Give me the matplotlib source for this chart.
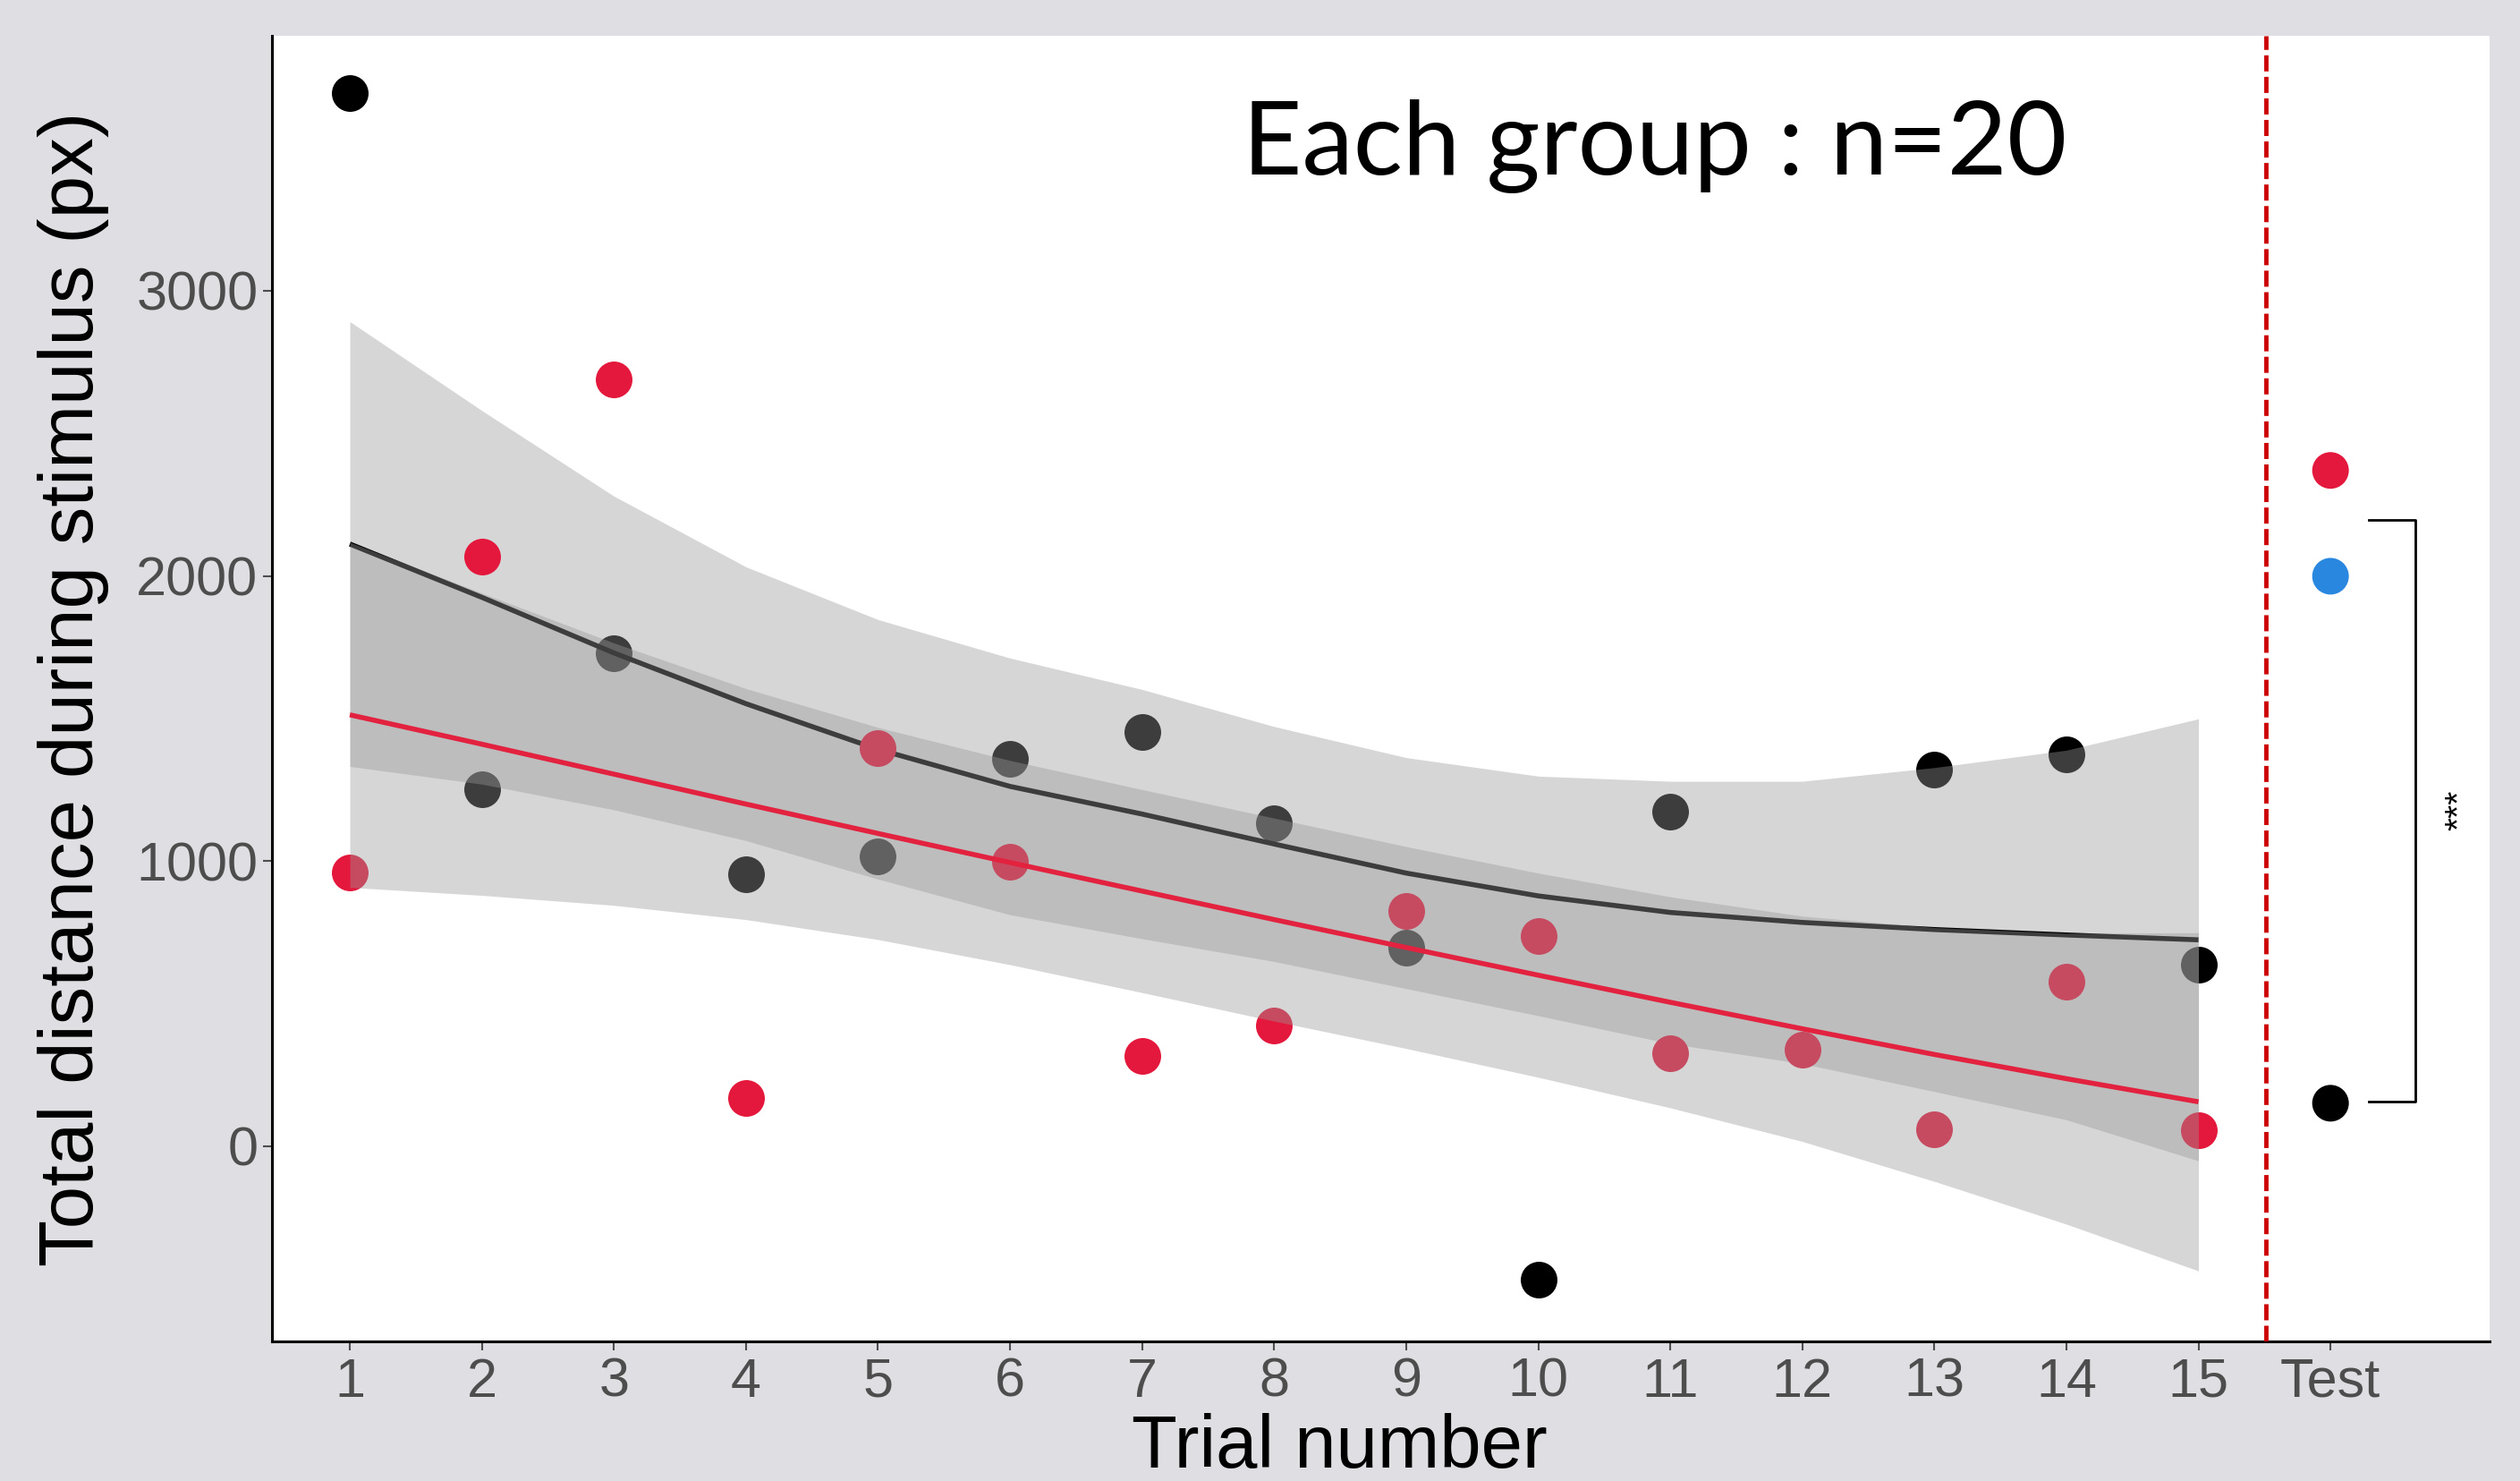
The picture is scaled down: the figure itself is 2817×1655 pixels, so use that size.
import numpy as np
import matplotlib
matplotlib.use("Agg")
import matplotlib.pyplot as plt

plt.rcParams["font.family"] = ["Liberation Sans", "DejaVu Sans"]

# ---- data ----
trials = np.arange(1, 16)
tick_labels = [str(t) for t in trials] + ["Test"]

# black group (points + smooth fit + 95% band half width)
black_pts = [3692, 1252, 1729, 954, 1017, 1360, 1452, 1133, 695, -468, 1173, np.nan, 1320, 1373, 636]
black_fit = [2112, 1925, 1730, 1552, 1392, 1262, 1165, 1060, 958, 878, 820, 785, 760, 741, 724]
black_ci = [780, 655, 550, 480, 455, 450, 437, 412, 405, 420, 460, 495, 568, 648, 775]

# red group
red_pts = [960, 2068, 2688, 168, 1396, 999, 316, 425, 826, 737, 327, 340, 60, 577, 56]
red_fit = [1513, 1410, 1305, 1200, 1097, 995, 895, 795, 697, 600, 505, 412, 322, 237, 156]
red_ci = [605, 530, 460, 405, 372, 358, 356, 356, 354, 358, 370, 395, 445, 510, 593]

# test trial
test_vals = [2370, 1999, 151]
test_cols = ["#e4183c", "#2a87e0", "#000000"]
sig_top, sig_bottom = 2198, 157

RED = "#e4183c"
BG = "#dfdfe3"

fig = plt.figure(figsize=(28.17, 16.55), dpi=100, facecolor=BG)
ax = fig.add_axes([0.1078, 0.0943, 0.988 - 0.1078, 0.9758 - 0.0943])
ax.set_facecolor("white")

bf = np.array(black_fit, dtype=float)
bc = np.array(black_ci, dtype=float)
rf = np.array(red_fit, dtype=float)
rc = np.array(red_ci, dtype=float)

# layer order as in ggplot: each group's points, then its smooth band + line
ax.scatter(trials, black_pts, s=870, color="black", linewidths=0, zorder=1)
ax.fill_between(trials, bf - bc, bf + bc, color="#999999", alpha=0.4, linewidth=0, zorder=2)
ax.plot(trials, bf, color="black", lw=4, zorder=3, solid_capstyle="butt")

ax.scatter(trials, red_pts, s=870, color=RED, linewidths=0, zorder=4)
ax.fill_between(trials, rf - rc, rf + rc, color="#999999", alpha=0.4, linewidth=0, zorder=5)
ax.plot(trials, rf, color="#e2223f", lw=4, zorder=6, solid_capstyle="butt")

ax.scatter([16] * len(test_vals), test_vals, s=870, color=test_cols, linewidths=0, zorder=6)

# separator before test trial
ax.axvline(15.51, color="#cc0000", lw=3.5, dashes=(3.7, 1.25), zorder=7)

# significance bracket
bx0, bx1 = 16.29, 16.64
ax.plot([bx0, bx1, bx1, bx0], [sig_top, sig_top, sig_bottom, sig_bottom],
        color="black", lw=2, zorder=7)
ax.text(16.98, (sig_top + sig_bottom) / 2, "***", rotation=90, fontsize=28,
        ha="center", va="center", color="black")

ax.text(7.76, 3407, "Each group : n=20", family=["Lato", "DejaVu Sans"],
        fontweight="normal", fontsize=83, ha="left", va="baseline", color="black")

# axes
ax.set_xlim(0.408, 17.206)
ax.set_ylim(-684, 3894)
ax.set_xticks(list(trials) + [16])
ax.set_xticklabels(tick_labels)
ax.set_yticks([0, 1000, 2000, 3000])
ax.tick_params(axis="both", labelsize=44, labelcolor="#4d4d4d", color="#4d4d4d",
               length=7, width=1.5)
ax.tick_params(axis="x", pad=6)
ax.tick_params(axis="y", pad=4)
for s in ["top", "right"]:
    ax.spines[s].set_visible(False)
for s in ["left", "bottom"]:
    ax.spines[s].set_linewidth(2.2)
    ax.spines[s].set_color("black")

fig.text(0.029, 0.5347, "Total distance during stimulus (px)", rotation=90,
         fontsize=61.5, ha="center", va="center", color="black")
fig.text(0.5316, 0.009, "Trial number", fontsize=60, ha="center", va="baseline",
         color="black")

fig.savefig("out.png", dpi=100, facecolor=BG)
